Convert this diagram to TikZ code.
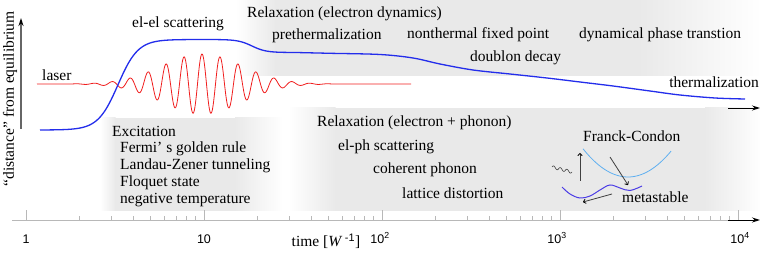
\documentclass[tikz,border=0pt]{standalone}
\usepackage{fontspec}
\setmainfont{Liberation Serif}
\setsansfont{Liberation Sans}
\usetikzlibrary{arrows.meta}

\definecolor{shadegray}{gray}{0.915}
\definecolor{laserred}{RGB}{240,30,30}
\definecolor{curveblue}{RGB}{35,45,235}
\definecolor{fcblue}{RGB}{95,175,240}
\definecolor{wellblue}{RGB}{75,60,230}
\definecolor{axisgray}{gray}{0.72}

\tikzset{
  lbl/.style={font=\fontsize{15.5}{18}\selectfont, inner sep=0pt, anchor=west},
  ticklbl/.style={font=\sffamily\fontsize{12.5}{14}\selectfont, inner sep=0pt},
  shadebox/.style={fill=shadegray},
  axtip/.style={line width=0.9pt, -{Stealth[length=8pt,width=5pt,color=black]}},
  fcarrow/.style={draw=black!75, line width=0.8pt, -{To[length=3pt,width=5pt,color=black]}}
}

\begin{document}
\begin{tikzpicture}[x=1pt, y=-1pt]
    \useasboundingbox (0,0) rectangle (761,256);

    % shaded regions
    \shade[left color=white, right color=shadegray] (236,0) rectangle (275.5,76);
    \fill[shadebox] (275,0) rectangle (640.5,76);
    \shade[left color=shadegray, right color=white] (640,0) rectangle (761,76);

    \shade[left color=white, right color=shadegray] (100,118) rectangle (115.5,211);
    \fill[shadebox] (115,118) rectangle (235.5,211);
    \shade[left color=shadegray, right color=white] (235,118) rectangle (283,211);

    \shade[left color=white, right color=shadegray] (288,108) rectangle (335.5,211);
    \fill[shadebox] (335,108) rectangle (705.5,211);
    \shade[left color=shadegray, right color=white] (705,108) rectangle (761,211);

    % time axis
    \draw[axisgray, line width=0.9pt] (12,220) -- (745,220);
    \foreach \d in {0,...,4}
        \draw[axisgray, line width=0.8pt] ({26+178*\d},220) -- ({26+178*\d},210);
    \foreach \d in {0,...,3}
        \foreach \k in {2,...,9}
            \draw[axisgray, line width=0.8pt] ({26+178*\d+178*log10(\k)},220) -- ({26+178*\d+178*log10(\k)},216.5);
    \coordinate (axA) at (728,220);
    \coordinate (axB) at (760,220);
    \draw[axtip] (axA) -- (axB);
    \coordinate (tA) at (728,108);
    \coordinate (tB) at (760,108);
    \draw[axtip] (tA) -- (tB);

    \node[ticklbl] (l0) at (26,239) {1};
    \node[ticklbl] (l1) at (204,239) {10};
    \node[ticklbl] (l2) at (380,238) {10\textsuperscript{2}};
    \node[ticklbl] (l3) at (557,238) {10\textsuperscript{3}};
    \node[ticklbl] (l4) at (740,238) {10\textsuperscript{4}};
    \node[lbl, anchor=center] (tlab) at (326,241) {time [\textit{W}\,\textsuperscript{\sffamily -1}]};

    % distance axis
    \coordinate (yA) at (21,129);
    \coordinate (yB) at (21,18);
    \draw[black!60, axtip, line width=1.2pt] (yA) -- (yB);
    \node[lbl, rotate=90, anchor=center] (ylab) at (10,99) {“distance” from equilibrium};

    % laser pulse
    \draw[laserred, line width=0.8pt] plot[domain=37:411, samples=700]
        (\x, {84-30*exp(-0.5*((\x-202)/40)^2)*cos(20*(\x-202))});

    % distance curve
    \draw[curveblue, line width=1.3pt] plot[domain=40:300, samples=140]
        (\x, {130-90.5/(1+exp(min(9,-(\x-118)/10)))+13/(1+exp(min(9,-(\x-252)/7)))})
        -- plot[smooth, tension=0.55] coordinates {
        (300,52.6) (330,53.3) (380,54.5) (413,58) (440,64) (473,70) (510,74)
        (547,78) (580,82) (613,86) (650,91) (680,95) (715,98) (745,99)};

    % upper labels
    \node[lbl] (elel) at (132,24) {el-el scattering};
    \node[lbl] (relaxe) at (247,14) {Relaxation (electron dynamics)};
    \node[lbl] (preth) at (272,36) {prethermalization};
    \node[lbl] (nfp) at (407,35) {nonthermal fixed point};
    \node[lbl] (dpt) at (579,35) {dynamical phase transtion};
    \node[lbl] (doub) at (470,58) {doublon decay};
    \node[lbl, anchor=east] (therm) at (759,82) {thermalization};
    \node[lbl] (laser) at (42,75) {laser};

    % excitation
    \node[lbl] (exc) at (112,131) {Excitation};
    \node[lbl] (fermi) at (120,149) {Fermi’ s golden rule};
    \node[lbl] (lz) at (120,166) {Landau-Zener tunneling};
    \node[lbl] (floq) at (120,183) {Floquet state};
    \node[lbl] (negt) at (120,200) {negative temperature};

    % relaxation with phonons
    \node[lbl] (relaxp) at (317,123) {Relaxation (electron + phonon)};
    \node[lbl] (elph) at (338,147) {el-ph scattering};
    \node[lbl] (coh) at (373,170) {coherent phonon};
    \node[lbl] (lat) at (402,193) {lattice distortion};

    % Franck-Condon sketch
    \node[lbl] (fc) at (583,136) {Franck-Condon};
    \node[lbl] (meta) at (622,197) {metastable};
    \draw[fcblue, line width=0.8pt] plot[domain=583:671, samples=40]
        (\x, {177-27*((\x-628)/44)^2});
    \draw[wellblue, line width=1pt] plot[smooth, tension=0.6] coordinates {
        (562,187) (570,194) (580,198) (590,196) (600,190) (610,185) (620,188)
        (630,190.5) (642,186)};
    \draw[black!75, line width=0.6pt] plot[domain=0:20, samples=60]
        ({552+\x}, {167+0.25*\x-1.5*sin(54*\x)});
    \coordinate (upS) at (580,181);
    \coordinate (upE) at (580,153);
    \coordinate (dgS) at (610,157);
    \coordinate (dgE) at (628,185);
    \coordinate (bkS) at (612,194);
    \coordinate (bkE) at (583,202);
    \draw[fcarrow] (upS) -- (upE);
    \draw[fcarrow] (dgS) -- (dgE);
    \draw[fcarrow] (bkS) -- (bkE);
\end{tikzpicture}
\end{document}
